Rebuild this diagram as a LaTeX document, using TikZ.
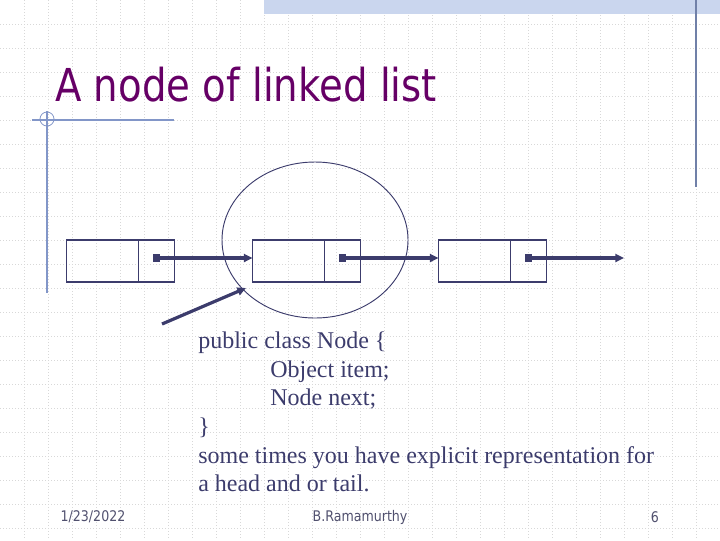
\documentclass[tikz,border=0pt]{standalone}
\usepackage{fontspec}
\setmainfont{Liberation Serif}
\setsansfont{DejaVu Sans}
\usepackage{graphicx}
\usetikzlibrary{arrows.meta, positioning, shapes.geometric}
\definecolor{TitlePurple}{HTML}{660066}
\definecolor{InkNavy}{HTML}{3C3C6C}
\definecolor{RuleBlue}{HTML}{8296C8}
\definecolor{RuleSlate}{HTML}{7080A8}
\definecolor{GridGray}{HTML}{D8D8D8}
\definecolor{BandBlue}{HTML}{CAD6EE}
\definecolor{FootGray}{HTML}{50506E}
\tikzset{
  cell/.style={draw=InkNavy, line width=1.1pt, minimum height=31.5pt, inner sep=0pt, outer sep=0pt},
  datacell/.style={cell, minimum width=54pt},
  nextcell/.style={cell, minimum width=27pt},
  ptrdot/.style={fill=InkNavy, minimum size=5.5pt, inner sep=0pt},
  link/.style={draw=InkNavy, line width=2.4pt, -{Triangle[length=6.5pt, width=6pt]}},
  gridline/.style={GridGray, line width=0.6pt, dash pattern=on 0.75pt off 1.5pt},
  footer/.style={text=FootGray, inner sep=0pt, font=\sffamily\fontsize{11}{13}\selectfont},
}

\begin{document}
\begin{tikzpicture}[x=0.75pt, y=-0.75pt]
        \useasboundingbox (0,0) rectangle (720,540);
        % Slide background
        \foreach \gx in {24,48,...,696} \draw[gridline] (\gx,0) -- (\gx,540);
        \foreach \gy in {24,48,...,528} \draw[gridline] (0,\gy) -- (720,\gy);
        \fill[BandBlue] (264,0) rectangle (720,14);
        \draw[RuleSlate, line width=0.9pt] (696,0) -- (696,187);
        \draw[RuleBlue, line width=0.8pt] (32,120) -- (174,120);
        \draw[RuleBlue, line width=0.8pt] (47,111) -- (47,293);
        \draw[RuleBlue, line width=0.6pt] (47,119) circle[radius=7];

        % Title
        \node[anchor=base west, inner sep=0pt, text=TitlePurple, font=\sffamily\fontsize{34}{40}\selectfont] (title) at (55,101) {\scalebox{0.853}[1]{A node of linked list}};

        % List nodes
        \node[datacell] (d1) at (102.5,261) {};
        \node[nextcell, right=0pt of d1] (n1) {};
        \node[datacell, right=58.5pt of n1] (d2) {};
        \node[nextcell, right=0pt of d2] (n2) {};
        \node[datacell, right=58.5pt of n2] (d3) {};
        \node[nextcell, right=0pt of d3] (n3) {};
        \node[ptrdot] (p1) at ([yshift=2.25pt]n1.center) {};
        \node[ptrdot] (p2) at ([yshift=2.25pt]n2.center) {};
        \node[ptrdot] (p3) at ([yshift=2.25pt]n3.center) {};
        \coordinate (nil) at (624,258);

        % Highlighted node
        \node[ellipse, draw=InkNavy, line width=0.7pt, minimum width=139.5pt, minimum height=117pt, inner sep=0pt] (focus) at (315,240) {};
        \coordinate (ref) at (162,324);
        \coordinate (hit) at (246,288);

        % Links
        \draw[link] (p1.center) -- (p1.center -| d2.west);
        \draw[link] (p2.center) -- (p2.center -| d3.west);
        \draw[link] (p3.center) -- (nil);
        \draw[link] (ref) -- (hit);

        % Class text
        \node[anchor=north west, align=left, inner sep=0pt, text=InkNavy, font=\fontsize{18}{21.5}\selectfont] (code) at (198,331.5) {public class Node \{\\ \hspace*{54pt}Object item;\\ \hspace*{54pt}Node next;\\ \}\\ some times you have explicit representation for\\ a head and or tail.};

        % Footer
        \node[footer] (date) at (93,517) {\scalebox{0.86}[1]{1/23/2022}};
        \node[footer] (author) at (360,517) {\scalebox{0.86}[1]{B.Ramamurthy}};
        \node[footer] (page) at (655,517) {\scalebox{0.86}[1]{6}};
    \end{tikzpicture}
\end{document}
